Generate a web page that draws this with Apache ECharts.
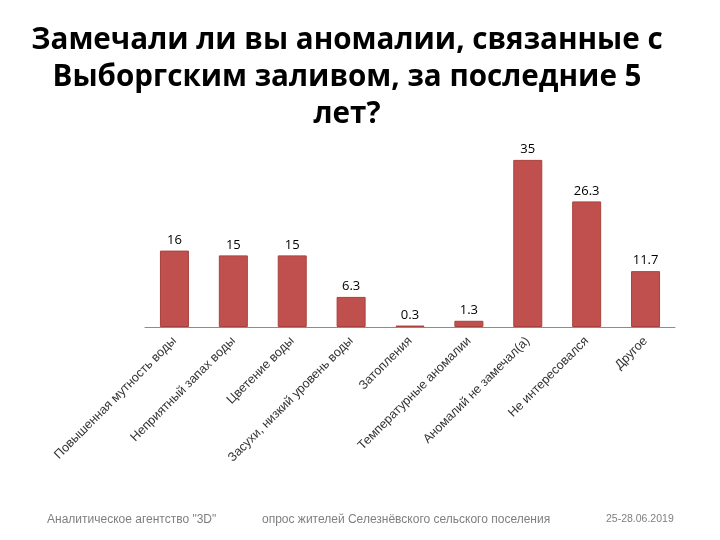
<!DOCTYPE html>
<html>
<head>
<meta charset="utf-8">
<script src="https://cdn.jsdelivr.net/npm/echarts@6/dist/echarts.min.js"></script>
<style>
  html, body { margin: 0; padding: 0; background: #fff; }
  #chart { width: 720px; height: 540px; }
</style>
</head>
<body>
<div id="chart"></div>
<script>
// категории ответов
const categories = [
  'Повышенная мутность воды',
  'Неприятный запах воды',
  'Цветение воды',
  'Засухи, низкий уровень воды',
  'Затопления',
  'Температурные аномалии',
  'Аномалий не замечал(а)',
  'Не интересовался',
  'Другое'
]
// доли ответов, %
const values = [16, 15, 15, 6.3, 0.3, 1.3, 35, 26.3, 11.7]

const titleLines = [
  'Замечали ли вы аномалии, связанные с',
  'Выборгским заливом, за последние 5',
  'лет?'
]
const footer = ['Аналитическое агентство "3D"', 'опрос жителей Селезнёвского сельского поселения', '25-28.06.2019']

const chart = echarts.init(document.getElementById('chart'))

const option = {
  backgroundColor: '#ffffff',
  animation: false,
  graphic: [
    // заголовок чуть левее центра, как на слайде
    {
      type: 'text',
      x: 347,
      y: 22,
      style: {
        text: titleLines.join('\n'),
        textAlign: 'center',
        fill: '#000',
        font: 'bold 29.6px "Open Sans"',
        lineHeight: 37
      }
    },
    { type: 'text', left: 47, top: 514, style: { text: footer[0], fill: '#7f7f7f', font: '12px "Liberation Sans"' } },
    { type: 'text', left: 262, top: 514, style: { text: footer[1], fill: '#7f7f7f', font: '12px "Liberation Sans"' } },
    { type: 'text', left: 606, top: 514, style: { text: footer[2], fill: '#7f7f7f', font: '10.5px "Liberation Sans"' } }
  ],
  grid: {
    left: 145,
    right: 45,
    top: 136,
    bottom: 213
  },
  xAxis: {
    type: 'category',
    data: categories,
    axisTick: { show: false },
    axisLine: { show: true, lineStyle: { color: '#8c8c8c', width: 1 } },
    axisLabel: {
      rotate: 45,
      interval: 0,
      margin: 12,
      color: '#333',
      fontSize: 12.6,
      fontFamily: 'Liberation Sans'
    }
  },
  yAxis: {
    type: 'value',
    min: 0,
    max: 40,
    show: false,
    splitLine: { show: false }
  },
  series: [
    {
      type: 'bar',
      data: values,
      barWidth: 29,
      itemStyle: {
        color: '#c0504d',
        borderColor: '#a9403d',
        borderWidth: 1
      },
      label: {
        show: true,
        position: 'top',
        distance: 4,
        color: '#000',
        fontSize: 13,
        fontFamily: 'Open Sans'
      }
    }
  ]
}

chart.setOption(option)
</script>
</body>
</html>
